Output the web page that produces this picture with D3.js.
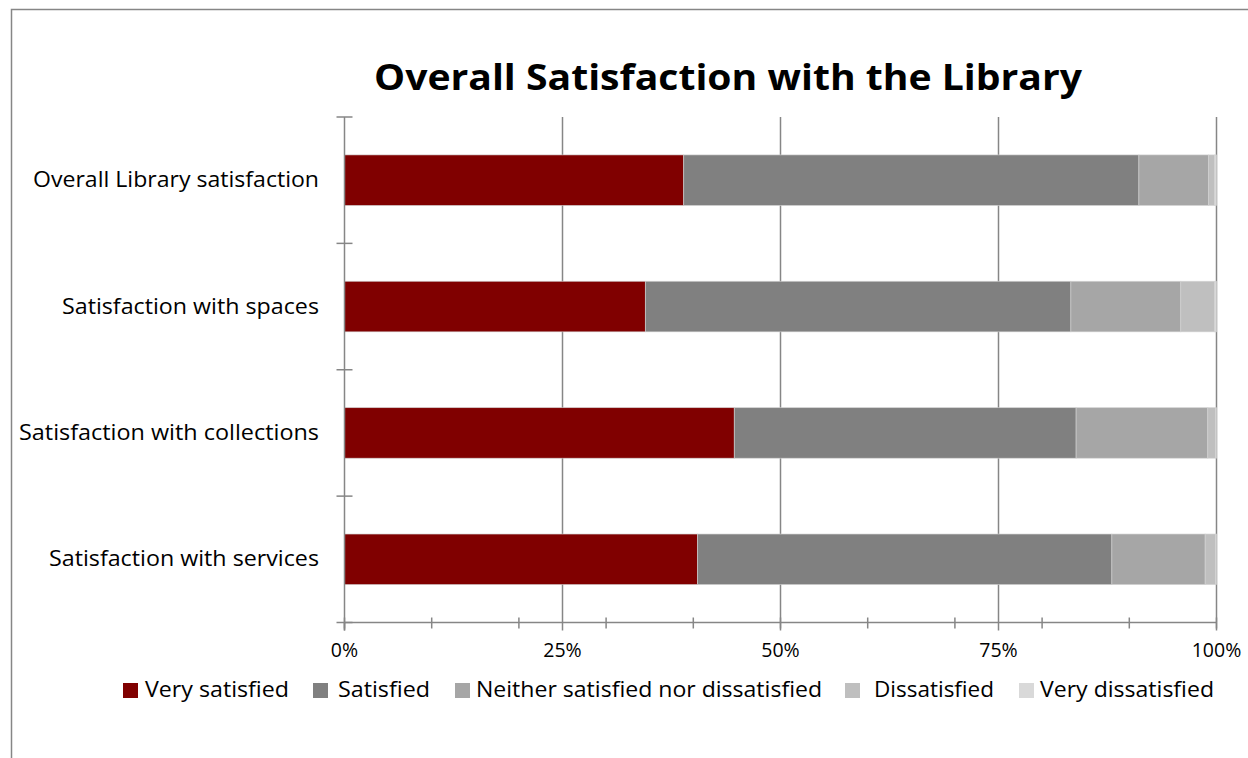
<!DOCTYPE html>
<html>
<head>
<meta charset="utf-8">
<script src="https://cdn.jsdelivr.net/npm/d3@7"></script>
<style>
  html, body { margin: 0; padding: 0; background: #fff; }
  svg { display: block; }
  text { font-family: "Open Sans", Lato, sans-serif; fill: #000; }
</style>
</head>
<body>
<svg id="chart" width="1248" height="758"></svg>
<script>
// Survey categories (top to bottom)
const categories = [
  "Overall Library satisfaction",
  "Satisfaction with spaces",
  "Satisfaction with collections",
  "Satisfaction with services"
];

// Response levels, in stacking order
const levels = [
  "Very satisfied",
  "Satisfied",
  "Neither satisfied nor dissatisfied",
  "Dissatisfied",
  "Very dissatisfied"
];

// Share of responses (%) per level, one value per category
const verySatisfied = [38.9, 34.5, 44.7, 40.5];
const satisfied     = [52.2, 48.8, 39.2, 47.5];
const neither       = [ 8.0, 12.6, 15.1, 10.7];
const dissatisfied  = [ 0.7,  3.9,  0.9,  1.2];
const veryDissatisfied = [0.2, 0.2, 0.1, 0.1];

const tickValues = [0, 25, 50, 75, 100];
const minorTickValues = [0, 10, 20, 30, 40, 50, 60, 70, 80, 90, 100];

const colors = ["#800000", "#808080", "#a6a6a6", "#bfbfbf", "#d9d9d9"];

const seriesValues = [verySatisfied, satisfied, neither, dissatisfied, veryDissatisfied];
const rows = categories.map((c, i) => {
  const r = { category: c };
  levels.forEach((l, j) => { r[l] = seriesValues[j][i]; });
  return r;
});

const svg = d3.select("#chart");
const axisColor = "#868686";

// Fit a text element to a given width (small correction of glyph spacing)
function fitWidth(sel, w) {
  sel.attr("textLength", w).attr("lengthAdjust", "spacingAndGlyphs");
}

// Outer chart frame
svg.append("rect")
  .attr("x", 11.5).attr("y", 9.5)
  .attr("width", 1250).attr("height", 760)
  .attr("fill", "none").attr("stroke", axisColor).attr("stroke-width", 1.5);

const x = d3.scaleLinear().domain([0, 100]).range([344.5, 1216.5]);
const y = d3.scaleBand().domain(categories).range([117, 622.5])
  .paddingInner(0.6).paddingOuter(0.3);
const yTop = 117, yBottom = 622.5;

// Title
svg.append("text")
  .attr("x", 728).attr("y", 90)
  .attr("text-anchor", "middle")
  .attr("font-size", 35).attr("font-weight", "bold")
  .text("Overall Satisfaction with the Library")
  .call(fitWidth, 708);

// Vertical gridlines at major ticks
svg.append("g").selectAll("line")
  .data(tickValues.filter(v => v > 0))
  .join("line")
  .attr("x1", d => x(d)).attr("x2", d => x(d))
  .attr("y1", yTop).attr("y2", yBottom)
  .attr("stroke", axisColor).attr("stroke-width", 1.5);

// Stacked bars
const stack = d3.stack().keys(levels);
const stacked = stack(rows);
svg.append("g").selectAll("g")
  .data(stacked)
  .join("g")
  .attr("fill", (d, i) => colors[i])
  .selectAll("rect")
  .data(d => d)
  .join("rect")
  .attr("x", d => x(d[0]))
  .attr("width", d => x(d[1]) - x(d[0]))
  .attr("y", d => y(d.data.category))
  .attr("height", y.bandwidth())
  .attr("stroke", "rgba(210,210,210,0.8)")
  .attr("stroke-width", 0.75);

// X axis: line, minor ticks, major ticks, labels
const xAxis = svg.append("g");
xAxis.append("line")
  .attr("x1", x(0)).attr("x2", x(100))
  .attr("y1", yBottom).attr("y2", yBottom)
  .attr("stroke", axisColor).attr("stroke-width", 1.5);
xAxis.selectAll("line.minor")
  .data(minorTickValues)
  .join("line").attr("class", "minor")
  .attr("x1", d => x(d)).attr("x2", d => x(d))
  .attr("y1", yBottom - 5).attr("y2", yBottom + 6)
  .attr("stroke", axisColor).attr("stroke-width", 1.5);
xAxis.selectAll("line.major")
  .data(tickValues)
  .join("line").attr("class", "major")
  .attr("x1", d => x(d)).attr("x2", d => x(d))
  .attr("y1", yBottom).attr("y2", yBottom + 8)
  .attr("stroke", axisColor).attr("stroke-width", 1.5);
xAxis.selectAll("text")
  .data(tickValues)
  .join("text")
  .attr("x", d => x(d)).attr("y", 657)
  .attr("text-anchor", "middle")
  .attr("font-size", 19.5)
  .text(d => d + "%");

// Y axis: line, category ticks, labels
const yAxis = svg.append("g");
yAxis.append("line")
  .attr("x1", x(0)).attr("x2", x(0))
  .attr("y1", yTop).attr("y2", yBottom + 8)
  .attr("stroke", axisColor).attr("stroke-width", 1.5);
const step = (yBottom - yTop) / categories.length;
yAxis.selectAll("line.tick")
  .data(d3.range(categories.length + 1))
  .join("line").attr("class", "tick")
  .attr("x1", x(0) - 8).attr("x2", x(0) + 8)
  .attr("y1", i => yTop + i * step).attr("y2", i => yTop + i * step)
  .attr("stroke", axisColor).attr("stroke-width", 1.5);
const labelWidths = [286, 257, 300, 270];
yAxis.selectAll("text")
  .data(categories)
  .join("text")
  .attr("x", 319)
  .attr("y", d => y(d) + y.bandwidth() / 2 + 7)
  .attr("text-anchor", "end")
  .attr("font-size", 21)
  .text(d => d)
  .each(function(d, i) { d3.select(this).call(fitWidth, labelWidths[i]); });

// Legend
const legendSwatchX = [123, 313, 455, 845, 1019];
const legendTextX = [145, 338, 476, 874, 1040];
const legendTextW = [144, 92, 346, 120, 174];
const legend = svg.append("g");
levels.forEach((l, i) => {
  legend.append("rect")
    .attr("x", legendSwatchX[i]).attr("y", 683)
    .attr("width", 15).attr("height", 15)
    .attr("fill", colors[i]);
  legend.append("text")
    .attr("x", legendTextX[i]).attr("y", 697)
    .attr("font-size", 21)
    .text(l)
    .call(fitWidth, legendTextW[i]);
});
</script>
</body>
</html>
